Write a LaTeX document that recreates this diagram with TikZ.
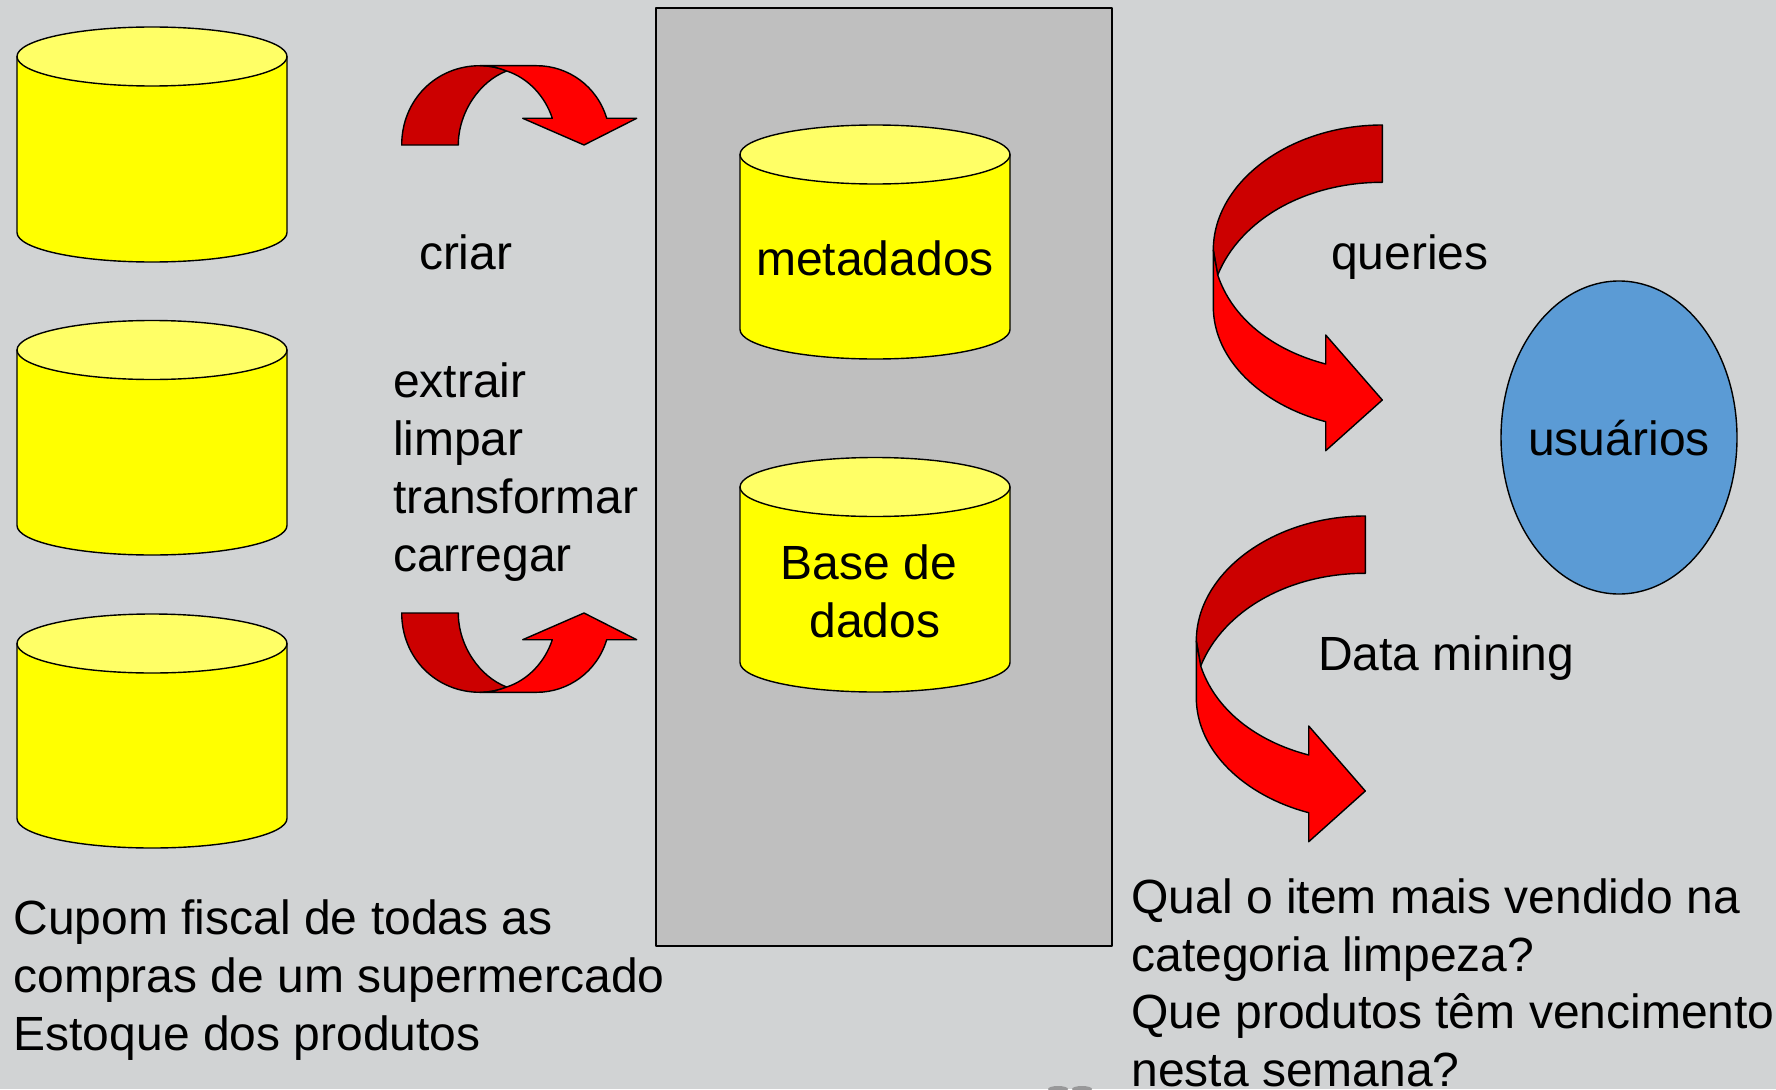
\documentclass[tikz,border=0pt]{standalone}
\usepackage{fontspec}
\usetikzlibrary{shapes.geometric}
\setmainfont{Liberation Sans}
\definecolor{bgc}{HTML}{D1D3D4}
\definecolor{panelc}{HTML}{BFBFBF}
\definecolor{topc}{HTML}{FFFF66}
\definecolor{cylc}{HTML}{FFFF00}
\definecolor{darkred}{HTML}{CC0000}
\definecolor{brightred}{HTML}{FF0000}
\definecolor{userc}{HTML}{5B9BD5}
\tikzset{
  outl/.style={draw=black,line width=1.4pt,line join=round},
  txt/.style={anchor=base west,inner sep=0pt,outer sep=0pt,font=\fontsize{48}{57}\selectfont,text=black},
  ctxt/.style={txt,anchor=base},
  bent/.pic={
    \path[outl,fill=darkred] (401.7,145) .. controls (401.7,100) and (436,65.7) .. (480,65.7)
      .. controls (489,65.7) and (498,67.5) .. (506.7,71)
      .. controls (480,81) and (458.3,112) .. (458.3,145) -- cycle;
    \path[outl,fill=brightred] (480,65.7) -- (536.7,65.7) .. controls (568,65.7) and (597,86) .. (606.7,118.3)
      -- (636.7,118.3) -- (584,145) -- (522.7,118.3) -- (552.3,118.3)
      .. controls (545,96) and (528,78) .. (506.7,71)
      .. controls (498,67.5) and (489,65.7) .. (480,65.7) -- cycle;
  },
  swoop/.pic={
    \path[outl,fill=darkred] (1382.3,125) .. controls (1290,125) and (1213.3,182) .. (1213.3,250)
      -- (1217.7,275) .. controls (1240,220) and (1305,182.3) .. (1382.3,182.3) -- cycle;
    \path[outl,fill=brightred] (1213.3,250) -- (1213.3,306.7) .. controls (1213.3,360) and (1262,405) .. (1325.7,421.7)
      -- (1325.7,450.7) -- (1382.3,400) -- (1325.7,335) -- (1325.7,364)
      .. controls (1272,350) and (1232,318) .. (1217.7,275) -- cycle;
  }
}
\newcommand{\cyl}[3]{% x-left, top, bottom
  \path[outl,fill=cylc] (#1,#2+29.5) -- (#1,#3-29.5) arc[start angle=180,end angle=0,x radius=135,y radius=29.5]
     -- (#1+270,#2+29.5) -- cycle;
  \path[outl,fill=topc] (#1+135,#2+29.5) ellipse[x radius=135,y radius=29.5];
}
\begin{document}
\begin{tikzpicture}[x=1pt,y=-1pt]
\useasboundingbox (0,0) rectangle (1776,1089);
\clip (0,0) rectangle (1776,1089);
\fill[bgc] (0,0) rectangle (1776,1089);
\path[outl,fill=panelc] (656,8) rectangle (1112,946);
\cyl{17}{27}{262}
\cyl{17}{320.5}{555}
\cyl{17}{614}{848}
\cyl{740}{125}{359}
\cyl{740}{457.5}{692}
\pic {bent};
\begin{scope}[yscale=-1,shift={(0,-758)}]
\pic[transform shape] {bent};
\end{scope}
\pic {swoop};
\begin{scope}[shift={(-17,391)}]
\pic {swoop};
\end{scope}
\node[outl,fill=userc,ellipse,minimum width=236pt,minimum height=313pt,inner sep=0pt] (usr) at (1619,437.5) {};
\fill[gray!70!bgc] (1058,1089) ellipse[x radius=10,y radius=3];
\fill[gray!70!bgc] (1082,1089) ellipse[x radius=10,y radius=3];
\node[txt] (t1) at (419,269.6) {criar};
\node[txt] (t2) at (393,397.6) {extrair};
\node[txt] (t3) at (393,455) {limpar};
\node[txt] (t4) at (393,513) {transformar};
\node[txt] (t5) at (393,571) {carregar};
\node[ctxt] (t6) at (875,275) {metadados};
\node[ctxt] (t7) at (869,579) {Base de};
\node[ctxt] (t8) at (875,637) {dados};
\node[txt] (t9) at (13.6,934.5) {Cupom fiscal de todas as};
\node[txt] (t10) at (13.6,992) {compras de um supermercado};
\node[txt] (t11) at (13.6,1050) {Estoque dos produtos};
\node[txt] (t12) at (1331,269.6) {queries};
\node[ctxt] (t13) at (1619,455) {usuários};
\node[txt] (t14) at (1318,670.6) {Data mining};
\node[txt] (t15) at (1131.5,913) {Qual o item mais vendido na};
\node[txt] (t16) at (1131.5,971) {categoria limpeza?};
\node[txt] (t17) at (1131.5,1028.5) {Que produtos têm vencimento};
\node[txt] (t18) at (1131.5,1086) {nesta semana?};
\end{tikzpicture}
\end{document}
